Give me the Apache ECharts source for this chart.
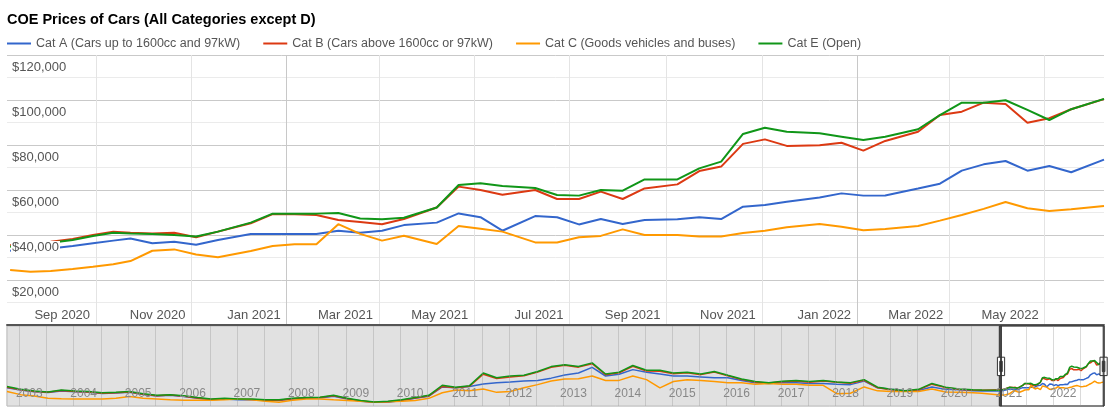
<!DOCTYPE html>
<html>
<head>
<meta charset="utf-8">
<title>COE Prices of Cars</title>
<script src="https://cdn.jsdelivr.net/npm/echarts@6.0.0/dist/echarts.min.js"></script>
<style>
  html, body { margin: 0; padding: 0; background: #fff; }
  #chart { width: 1120px; height: 420px; }
</style>
</head>
<body>
<div id="chart"></div>
<script>
// quarterly readings of the long history (only seen in the navigator)
const histDates = [
  '2002-04-10', '2002-07-10', '2002-10-10',
  '2003-01-10', '2003-04-10', '2003-07-10', '2003-10-10',
  '2004-01-10', '2004-04-10', '2004-07-10', '2004-10-10',
  '2005-01-10', '2005-04-10', '2005-07-10', '2005-10-10',
  '2006-01-10', '2006-04-10', '2006-07-10', '2006-10-10',
  '2007-01-10', '2007-04-10', '2007-07-10', '2007-10-10',
  '2008-01-10', '2008-04-10', '2008-07-10', '2008-10-10',
  '2009-01-10', '2009-04-10', '2009-07-10', '2009-10-10',
  '2010-01-10', '2010-04-10', '2010-07-10', '2010-10-10',
  '2011-01-10', '2011-04-10', '2011-07-10', '2011-10-10',
  '2012-01-10', '2012-04-10', '2012-07-10', '2012-10-10',
  '2013-01-10', '2013-04-10', '2013-07-10', '2013-10-10',
  '2014-01-10', '2014-04-10', '2014-07-10', '2014-10-10',
  '2015-01-10', '2015-04-10', '2015-07-10', '2015-10-10',
  '2016-01-10', '2016-04-10', '2016-07-10', '2016-10-10',
  '2017-01-10', '2017-04-10', '2017-07-10', '2017-10-10',
  '2018-01-10', '2018-04-10', '2018-07-10', '2018-10-10',
  '2019-01-10', '2019-04-10', '2019-07-10', '2019-10-10',
  '2020-01-10', '2020-03-10'
];
const histCatA = [
  40000, 35000, 31500,
  29500, 33000, 31500, 30500,
  27500, 28500, 30500, 25500,
  22000, 23500, 21000, 17000,
  14000, 15500, 14000, 14000,
  12000, 12000, 15500, 17000,
  17500, 21500, 15500, 10500,
  8000, 8500, 12000, 17000,
  21500, 42000, 40000, 43000,
  48200, 51400, 53000, 55000,
  56300, 61300, 68000, 72700,
  85000, 66000, 70000, 80000,
  74400, 70300, 66000, 66000,
  64000, 62000, 62000, 56300,
  51400, 49700, 51400, 51400,
  49700, 49700, 48000, 47000,
  54700, 40000, 36600, 33300,
  34000, 42000, 36600, 35800,
  33300, 33000
];
const histCatB = [
  41000, 36000, 32000,
  30000, 34000, 32000, 31000,
  28000, 29000, 31000, 26000,
  22500, 24000, 21700, 17800,
  14500, 16000, 14600, 14500,
  12800, 12900, 16200, 17800,
  18500, 22500, 16200, 11200,
  8500, 9500, 12800, 17800,
  22500, 43000, 40000, 43500,
  70000, 60500, 64000, 66500,
  74500, 85000, 89500, 85500,
  93000, 69000, 73000, 87500,
  77000, 76500, 71000, 73000,
  69000, 74500, 66500, 58000,
  52500, 50500, 53500, 55000,
  52500, 55000, 52000, 50000,
  56500, 40000, 35500, 32500,
  35500, 48000, 40500, 36500,
  35000, 34500
];
const histCatC = [
  31700, 25000, 22000,
  17000, 16000, 15300, 15300,
  15300, 17000, 21000, 17000,
  15300, 13600, 12800, 12800,
  12800, 13600, 15300, 13600,
  10300, 8000, 12800, 15300,
  15300, 13600, 12000, 10300,
  8700, 9500, 10300, 12000,
  16900, 29200, 35000, 33300,
  37400, 30000, 31700, 40000,
  47000, 55000, 59600, 60000,
  66000, 56000, 56300, 66000,
  58000, 40000, 53900, 58000,
  56300, 53900, 51400, 51400,
  48000, 49700, 48000, 48000,
  45600, 45600, 27000, 28000,
  42000, 33300, 31700, 32000,
  31700, 37400, 30900, 30000,
  29000, 28000
];
const histCatE = [
  43000, 37000, 33000,
  31000, 35000, 33000, 32000,
  29000, 30000, 32000, 27000,
  23500, 25000, 22700, 18600,
  15300, 17000, 15300, 15300,
  13600, 13600, 17000, 18600,
  19400, 23500, 17000, 12000,
  8700, 10300, 13600, 18600,
  23500, 45600, 41500, 44800,
  72700, 62000, 66000, 67800,
  76000, 86700, 90800, 86700,
  94900, 70300, 74400, 89200,
  78500, 78500, 72700, 74400,
  70300, 76000, 67800, 59600,
  53900, 51400, 54700, 56300,
  53900, 56300, 53000, 51400,
  58000, 41500, 36600, 33300,
  36600, 49700, 41500, 37400,
  35800, 35000
];

// bidding exercises in the zoomed window
const recentDates = [
  '2020-07-08', '2020-07-21', '2020-08-03', '2020-08-17', '2020-08-30', '2020-09-12', '2020-09-23',
  '2020-10-07', '2020-10-21', '2020-11-04', '2020-11-18', '2020-12-09', '2020-12-23',
  '2021-01-06', '2021-01-20', '2021-02-03', '2021-02-17', '2021-03-03', '2021-03-17',
  '2021-04-07', '2021-04-21', '2021-05-05', '2021-05-19', '2021-06-09', '2021-06-23',
  '2021-07-07', '2021-07-21', '2021-08-04', '2021-08-18', '2021-09-08', '2021-09-22',
  '2021-10-06', '2021-10-20', '2021-11-03', '2021-11-17', '2021-12-08', '2021-12-22',
  '2022-01-05', '2022-01-19', '2022-02-09', '2022-02-23', '2022-03-09', '2022-03-23',
  '2022-04-06', '2022-04-20', '2022-05-04', '2022-05-18', '2022-06-08'
];
const recentCatA = [
  33000, 33600, 34000, 35100, 36300, 37500, 38400,
  36300, 37000, 35700, 37800, 40400, 40400,
  40400, 40400, 41900, 41000, 41900, 44400,
  45500, 49600, 47900, 41900, 48400, 47900,
  44700, 47100, 44900, 46700, 47000, 47900,
  47100, 52600, 53300, 54800, 56700, 58500,
  57500, 57600, 60700, 62800, 68600, 71400,
  72900, 68600, 70700, 67900, 73500
];
const recentCatB = [
  35500, 36300, 37000, 38200, 40000, 41500, 41000,
  40700, 41000, 39000, 41500, 45200, 49300,
  49200, 48900, 46700, 45800, 44800, 47100,
  52200, 61500, 60000, 57900, 60000, 56000,
  56000, 59300, 56000, 60700, 62500, 68400,
  70400, 80500, 82500, 79600, 79900, 81000,
  77500, 81800, 85900, 93300, 94800, 98800,
  98200, 89900, 91900, 95900, 100400
];
const recentCatC = [
  24400, 23700, 24000, 24900, 25900, 27000, 28400,
  33000, 33600, 31300, 30100, 32900, 35100,
  35900, 35900, 44800, 40500, 37500, 39700,
  36000, 44000, 42800, 41500, 36700, 36700,
  39000, 39600, 42500, 40000, 40000, 39300,
  39300, 40900, 41900, 43400, 44900, 43700,
  42100, 42700, 44000, 46400, 48900, 51600,
  54700, 51900, 50700, 51400, 52900
];
const recentCatE = [
  34800, 35800, 36600, 37800, 39600, 41000, 40700,
  40400, 40000, 39300, 41500, 45500, 49500,
  49500, 49500, 49800, 47300, 47000, 47700,
  52200, 62200, 63000, 61800, 60900, 57800,
  57500, 60000, 59700, 64700, 64700, 69600,
  72600, 84900, 87700, 85900, 85200, 83700,
  82200, 83700, 87000, 93300, 98800, 98800,
  99900, 95600, 91100, 95900, 100500
];

const seriesNames = [
  'Cat A (Cars up to 1600cc and 97kW)',
  'Cat B (Cars above 1600cc or 97kW)',
  'Cat C (Goods vehicles and buses)',
  'Cat E (Open)'
];
const seriesColors = ['#3366cc', '#dc3912', '#ff9900', '#109618'];

// axis ticks
const mainTickDates = [
  '2020-09-01', '2020-11-01', '2021-01-01', '2021-03-01', '2021-05-01', '2021-07-01',
  '2021-09-01', '2021-11-01', '2022-01-01', '2022-03-01', '2022-05-01'
];
const navYears = [2003, 2004, 2005, 2006, 2007, 2008, 2009, 2010, 2011, 2012,
  2013, 2014, 2015, 2016, 2017, 2018, 2019, 2020, 2021, 2022];
const windowStart = '2020-07-06';
const windowEnd = '2022-06-08';

const monthNames = ['Jan', 'Feb', 'Mar', 'Apr', 'May', 'Jun', 'Jul', 'Aug', 'Sep', 'Oct', 'Nov', 'Dec'];
const font = 'Arial, "Liberation Sans", sans-serif';
// dates are kept as plain millisecond numbers on value axes
const ts = s => {
  const p = s.split('-').map(Number);
  return Date.UTC(p[0], p[1] - 1, p[2]);
};

const dates = histDates.concat(recentDates);
const values = [
  histCatA.concat(recentCatA),
  histCatB.concat(recentCatB),
  histCatC.concat(recentCatC),
  histCatE.concat(recentCatE)
];
const pairs = vals => dates.map((d, i) => [ts(d), vals[i]]);
const firstDate = ts(dates[0]);
const lastDate = ts(dates[dates.length - 1]);

const navTicks = [ts('2002-07-01')];
navYears.forEach(y => {
  navTicks.push(ts(y + '-01-01'));
  if (y < 2022) navTicks.push(ts(y + '-07-01'));
});

function money(v) {
  return '$' + String(v).replace(/\B(?=(\d{3})+(?!\d))/g, ',');
}

const chart = echarts.init(document.getElementById('chart'), null, { renderer: 'canvas' });

const mainSeries = values.map((vals, i) => ({
  name: seriesNames[i],
  type: 'line',
  xAxisIndex: 0,
  yAxisIndex: 0,
  data: pairs(vals),
  showSymbol: false,
  symbol: 'none',
  color: seriesColors[i],
  lineStyle: { width: 2, color: seriesColors[i] },
  z: 2
}));
const navSeries = values.map((vals, i) => ({
  name: seriesNames[i],
  type: 'line',
  xAxisIndex: 1,
  yAxisIndex: 2,
  data: pairs(vals),
  showSymbol: false,
  symbol: 'none',
  color: seriesColors[i],
  lineStyle: { width: 1.5, color: seriesColors[i] },
  silent: true,
  z: 2
}));

const option = {
  animation: false,
  backgroundColor: '#fff',
  title: {
    text: 'COE Prices of Cars (All Categories except D)',
    left: 2,
    top: 7,
    textStyle: { fontFamily: font, fontSize: 14.5, fontWeight: 'bold', color: '#000' }
  },
  legend: {
    data: seriesNames,
    left: 2,
    top: 32,
    icon: 'rect',
    itemWidth: 24,
    itemHeight: 2,
    itemGap: 23,
    textStyle: { fontFamily: font, fontSize: 12.5, color: '#555' }
  },
  grid: [
    { left: 7, right: 16, top: 55, bottom: 95, outerBoundsMode: 'none', containLabel: false },
    {
      left: 7, right: 16, top: 326, bottom: 14, outerBoundsMode: 'none', containLabel: false,
      show: true, backgroundColor: '#fff', borderColor: '#a8a8a8', borderWidth: 1
    }
  ],
  xAxis: [
    {
      type: 'value',
      gridIndex: 0,
      min: firstDate,
      max: lastDate,
      axisLine: { show: true, onZero: false, lineStyle: { color: '#555', width: 2 } },
      axisTick: { show: false, customValues: mainTickDates.map(ts) },
      splitLine: {
        show: true,
        lineStyle: { width: 1, color: ['#e4e4e4', '#e4e4e4', '#c8c8c8', '#e4e4e4', '#e4e4e4', '#e4e4e4'] }
      },
      axisLabel: {
        customValues: mainTickDates.map(ts),
        inside: true,
        margin: 3,
        align: 'right',
        padding: [0, 6, 0, 0],
        fontFamily: font,
        fontSize: 13,
        color: '#555',
        formatter: v => {
          const d = new Date(v);
          return monthNames[d.getUTCMonth()] + ' ' + d.getUTCFullYear();
        }
      }
    },
    {
      type: 'value',
      gridIndex: 1,
      min: firstDate,
      max: lastDate,
      z: 11,
      axisLine: { show: false, onZero: false },
      axisTick: { show: false, customValues: navTicks },
      splitLine: { show: true, lineStyle: { width: 1, color: 'rgba(150,150,150,0.35)' } },
      axisLabel: {
        customValues: navYears.map(y => ts(y + '-01-01')),
        inside: true,
        margin: 6,
        align: 'right',
        padding: [0, 4, 0, 0],
        fontFamily: font,
        fontSize: 12,
        color: '#888',
        formatter: v => String(new Date(v).getUTCFullYear())
      }
    }
  ],
  yAxis: [
    {
      type: 'value',
      gridIndex: 0,
      position: 'left',
      min: 0,
      max: 120000,
      interval: 10000,
      axisLine: { show: false },
      axisTick: { show: false },
      axisLabel: { show: false },
      splitLine: { show: true, lineStyle: { width: 1, color: ['#c9c9c9', '#ebebeb'] } },
      z: 0
    },
    {
      type: 'value',
      gridIndex: 0,
      position: 'left',
      offset: 0,
      min: 0,
      max: 120000,
      interval: 20000,
      axisLine: { show: false },
      axisTick: { show: false },
      splitLine: { show: false },
      axisLabel: {
        inside: true,
        margin: 4,
        verticalAlign: 'top',
        padding: [6, 0, 0, 0],
        formatter: v => (v === 0 ? '' : '{m|' + money(v) + '}'),
        rich: {
          m: { fontFamily: font, fontSize: 13, color: '#555', backgroundColor: '#fff', padding: [0, 1, 0, 1] }
        }
      },
      z: 5
    },
    {
      type: 'value',
      gridIndex: 1,
      min: 0,
      max: 176000,
      show: false,
      splitLine: { show: false }
    }
  ],
  dataZoom: [
    {
      type: 'slider',
      xAxisIndex: 0,
      filterMode: 'filter',
      startValue: ts(windowStart),
      endValue: ts(windowEnd),
      left: 7,
      right: 16,
      top: 326,
      height: 80,
      showDataShadow: false,
      showDetail: false,
      brushSelect: false,
      moveHandleSize: 0,
      moveHandleStyle: { opacity: 0 },
      backgroundColor: 'rgba(0,0,0,0)',
      fillerColor: 'rgba(0,0,0,0)',
      borderColor: 'rgba(0,0,0,0)',
      handleIcon: 'path://M4.5,0H5.5V100H4.5Z M0.5,38H9.5V61H0.5Z M3.4,43H4.4V56H3.4Z M5.6,43H6.6V56H5.6Z',
      handleSize: '100%',
      handleStyle: { color: '#fff', borderColor: '#333', borderWidth: 1 },
      emphasis: { handleStyle: { color: '#fff', borderColor: '#333' } },
      z: 20
    }
  ],
  series: mainSeries.concat(navSeries, [{
    name: 'shade',
    type: 'line',
    xAxisIndex: 1,
    yAxisIndex: 2,
    data: [],
    silent: true,
    z: 10,
    markArea: {
      silent: true,
      data: [
        [{ xAxis: firstDate, itemStyle: { color: 'rgba(204,204,204,0.58)', borderWidth: 0 } }, { xAxis: ts(windowStart) }],
        [{ xAxis: ts(windowStart), itemStyle: { color: 'rgba(0,0,0,0)', borderColor: '#333', borderWidth: 1 } }, { xAxis: lastDate }]
      ]
    }
  }])
};

chart.setOption(option);
</script>
</body>
</html>
